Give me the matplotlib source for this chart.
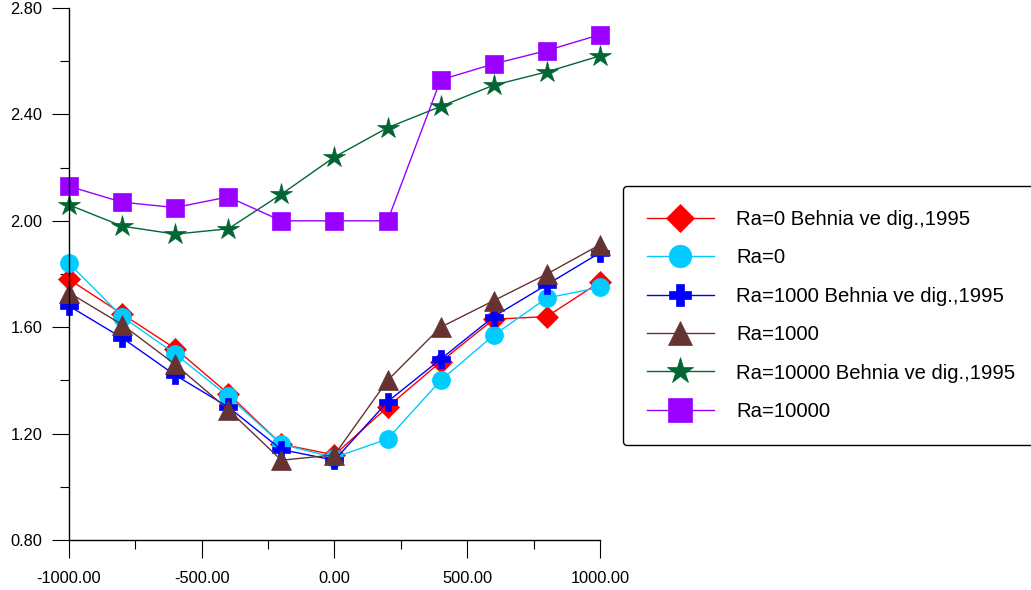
import numpy as np
import matplotlib.pyplot as plt
from matplotlib.ticker import MultipleLocator, FormatStrFormatter

plt.rcParams['font.family'] = ['Liberation Sans', 'DejaVu Sans']

x = [-1000, -800, -600, -400, -200, 0, 200, 400, 600, 800, 1000]

ra0_behnia = [1.78, 1.65, 1.52, 1.35, 1.16, 1.12, 1.30, 1.47, 1.63, 1.64, 1.77]
ra0 = [1.84, 1.64, 1.50, 1.34, 1.16, 1.11, 1.18, 1.40, 1.57, 1.71, 1.75]
ra1000_behnia = [1.68, 1.56, 1.42, 1.30, 1.14, 1.10, 1.32, 1.48, 1.64, 1.76, 1.88]
ra1000 = [1.73, 1.61, 1.46, 1.29, 1.10, 1.12, 1.40, 1.60, 1.70, 1.80, 1.91]
ra10000_behnia = [2.06, 1.98, 1.95, 1.97, 2.10, 2.24, 2.35, 2.43, 2.51, 2.56, 2.62]
ra10000 = [2.13, 2.07, 2.05, 2.09, 2.00, 2.00, 2.00, 2.53, 2.59, 2.64, 2.70]

labels = ["Ra=0 Behnia ve dig.,1995", "Ra=0", "Ra=1000 Behnia ve dig.,1995",
          "Ra=1000", "Ra=10000 Behnia ve dig.,1995", "Ra=10000"]

fig = plt.figure(figsize=(10.31, 5.90), dpi=100)
ax = fig.add_axes([0.0669, 0.0847, 0.5150, 0.9017])

# line color, marker, marker size
styles = [
    ('#ff0000', 'D', 11),
    ('#00ccff', 'o', 13),
    ('#0000ff', 'P', 13),
    ('#663333', '^', 14),
    ('#006633', '*', 16),
    ('#9900ff', 's', 13.5),
]
series = [ra0_behnia, ra0, ra1000_behnia, ra1000, ra10000_behnia, ra10000]

for y, lab, (c, m, ms) in zip(series, labels, styles):
    ax.plot(x, y, color=c, lw=1, marker=m, ms=ms, mfc=c, mec=c, mew=0.5,
            label=lab, clip_on=False)

ax.set_xlim(-1000, 1000)
ax.set_ylim(0.8, 2.8)
ax.xaxis.set_major_locator(MultipleLocator(500))
ax.xaxis.set_minor_locator(MultipleLocator(250))
ax.yaxis.set_major_locator(MultipleLocator(0.4))
ax.yaxis.set_minor_locator(MultipleLocator(0.2))
ax.xaxis.set_major_formatter(FormatStrFormatter('%.2f'))
ax.yaxis.set_major_formatter(FormatStrFormatter('%.2f'))

for s in ['top', 'right']:
    ax.spines[s].set_visible(False)
for s in ['left', 'bottom']:
    ax.spines[s].set_linewidth(1.0)

ax.tick_params(axis='x', which='major', length=13, width=0.8, pad=9, labelsize=11.8)
ax.tick_params(axis='x', which='minor', length=6.5, width=0.8)
ax.tick_params(axis='y', which='major', length=12, width=0.8, pad=7, labelsize=11.8)
ax.tick_params(axis='y', which='minor', length=6.5, width=0.8)

leg = ax.legend(loc='upper left', bbox_to_anchor=(623 / 1031, 1 - 186 / 590),
                bbox_transform=fig.transFigure, fontsize=14.6, markerscale=1.25,
                handlelength=3.3, handletextpad=1.1, labelspacing=0.96,
                borderpad=1.17, borderaxespad=0, frameon=True, fancybox=True,
                edgecolor='black', framealpha=1)
leg.get_frame().set_linewidth(1.0)

fig.savefig('out.png', dpi=100)
